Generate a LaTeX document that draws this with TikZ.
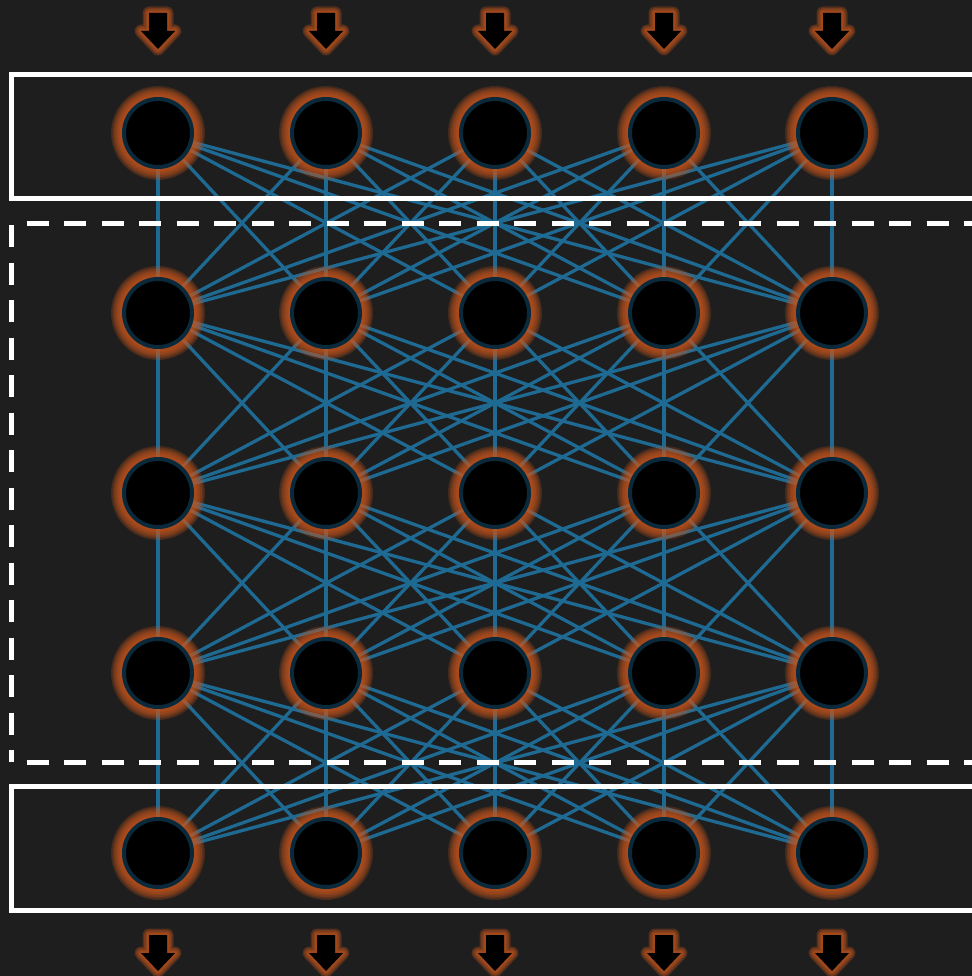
\documentclass[tikz,border=0pt]{standalone}
\definecolor{bgc}{HTML}{1E1E1E}
\definecolor{edgec}{HTML}{1F6A93}
\definecolor{glowc}{HTML}{C8561C}
\definecolor{ringc}{HTML}{0A2A3C}
\pgfdeclarelayer{bglayer}
\pgfdeclarelayer{edgelayer}
\pgfdeclarelayer{framelayer}
\pgfsetlayers{bglayer,edgelayer,framelayer,main}
\begin{document}
\begin{tikzpicture}[x=1pt,y=-1pt,
  neuron/.style={circle, fill=black, draw=ringc, line width=4pt, minimum size=68pt, inner sep=0pt},
  edge/.style={draw=edgec, line width=3.3pt},
  frame/.style={draw=white, line width=5pt},
  dframe/.style={draw=white, line width=5pt, dash pattern=on 22pt off 15.5pt}]
\useasboundingbox (0,0) rectangle (971,976);
\clip (0,0) rectangle (971,976);
\begin{pgfonlayer}{bglayer}
\fill[bgc] (-5,-5) rectangle (980,985);
\end{pgfonlayer}
% nodes with glow
\foreach \r/\y in {1/133,2/313,3/493,4/673,5/853} {
  \foreach \c/\x in {1/158,2/326,3/495,4/664,5/832} {
    \foreach \rad in {47,45.5,...,37} {
      \fill[glowc, opacity=0.22] (\x,\y) circle[radius=\rad];
    }
    \node[neuron] (n\r\c) at (\x,\y) {};
  }
}
% edges
\begin{pgfonlayer}{edgelayer}
\foreach \r/\s in {1/2,2/3,3/4,4/5} {
  \foreach \a in {1,...,5} {
    \foreach \b in {1,...,5} {
      \draw[edge] (n\r\a.center) -- (n\s\b.center);
    }
  }
}
\end{pgfonlayer}
% frames
\begin{pgfonlayer}{framelayer}
\draw[frame] (990,74.5) -- (11.5,74.5) -- (11.5,198.5) -- (990,198.5);
\draw[frame] (990,786.5) -- (11.5,786.5) -- (11.5,910.5) -- (990,910.5);
\draw[dframe, dash phase=22pt] (11,224) -- (990,224);
\draw[dframe] (11,225) -- (11,762);
\draw[dframe, dash phase=22pt] (11,762) -- (990,762);
\end{pgfonlayer}
% input / output arrows
\foreach \x in {158,326,495,664,832} {
  \foreach \t/\h/\p in {13/31/49, 935/953/971} {
    \foreach \w in {13,10,7,4} {
      \draw[glowc, opacity=0.3, line width=\w pt, line join=round]
        ({\x-9},\t) -- ({\x+9},\t) -- ({\x+9},\h) -- ({\x+17},\h) -- (\x,\p) -- ({\x-17},\h) -- ({\x-9},\h) -- cycle;
    }
    \fill[black] ({\x-9},\t) -- ({\x+9},\t) -- ({\x+9},\h) -- ({\x+17},\h) -- (\x,\p) -- ({\x-17},\h) -- ({\x-9},\h) -- cycle;
  }
}
\end{tikzpicture}
\end{document}
